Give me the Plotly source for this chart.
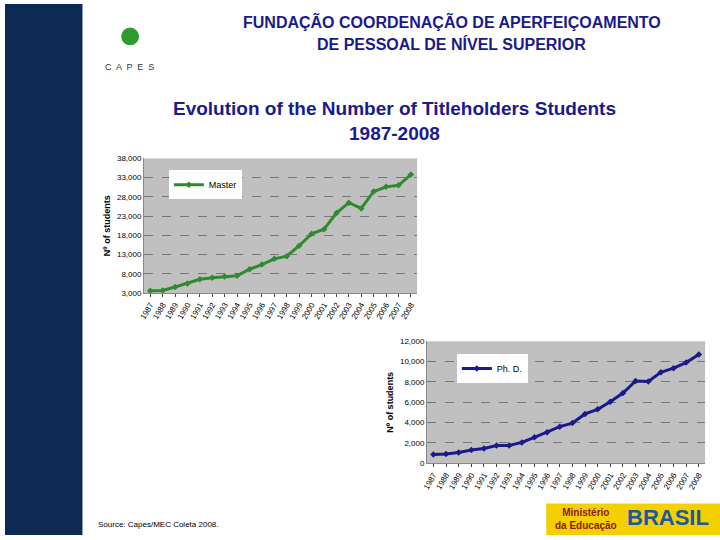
import plotly.graph_objects as go

years = [str(y) for y in range(1987, 2009)]
master = [3600, 3700, 4600, 5500, 6600, 7000, 7300, 7500, 9200, 10400, 11900, 12600,
          15300, 18400, 19600, 23800, 26500, 25000, 29400, 30600, 31000, 33800]
phd = [850, 900, 1050, 1300, 1450, 1750, 1750, 2050, 2550, 3050, 3600, 3950,
       4850, 5300, 6050, 6900, 8100, 8050, 8950, 9350, 9900, 10700]

W, H = 720, 540
def px(x): return x / W
def py(y): return 1 - y / H

fig = go.Figure()
fig.add_trace(go.Scatter(x=years, y=master, name="Master", mode="lines+markers",
                         line=dict(color="#2e8b2e", width=3), marker=dict(symbol="diamond", size=5),
                         xaxis="x", yaxis="y", legend="legend"))
fig.add_trace(go.Scatter(x=years, y=phd, name="Ph. D.", mode="lines+markers",
                         line=dict(color="#1a1a8c", width=3), marker=dict(symbol="diamond", size=5),
                         xaxis="x2", yaxis="y2", legend="legend2"))

axfont = dict(family="Arial", size=8, color="black")
common_x = dict(type="category", range=[-0.5, 21.5], tickangle=-60, tickfont=axfont,
                showgrid=False, showline=True, linecolor="#888", ticks="outside", ticklen=3)
ytitle = dict(family="Arial", size=9, color="black")
fig.update_layout(
    width=W, height=H, margin=dict(l=0, r=0, t=0, b=0),
    paper_bgcolor="white", plot_bgcolor="#c0c0c0", showlegend=True,
    xaxis=dict(domain=[px(140), px(415)], anchor="y", **common_x),
    yaxis=dict(domain=[py(294), py(157)], anchor="x", range=[3000, 38000],
               tickvals=list(range(3000, 38001, 5000)), tickformat=",", tickfont=axfont,
               gridcolor="#777", griddash="dash", showline=True, linecolor="#888",
               title=dict(text="<b>Nº of students</b>", font=ytitle, standoff=4)),
    xaxis2=dict(domain=[px(425), px(705)], anchor="y2", **common_x),
    yaxis2=dict(domain=[py(467), py(343)], anchor="x2", range=[0, 12000],
                tickvals=list(range(0, 12001, 2000)), tickformat=",", tickfont=axfont,
                gridcolor="#777", griddash="dash", showline=True, linecolor="#888",
                title=dict(text="<b>Nº of students</b>", font=ytitle, standoff=4)),
    legend=dict(x=px(165), y=py(169), xanchor="left", yanchor="top", bgcolor="white",
                font=dict(family="Arial", size=9, color="black")),
    legend2=dict(x=px(455), y=py(356), xanchor="left", yanchor="top", bgcolor="white",
                 font=dict(family="Arial", size=9, color="black")),
)

fig.add_shape(type="rect", xref="paper", yref="paper", x0=0, x1=px(78), y0=0, y1=1,
              fillcolor="#0d2a55", line=dict(width=0), layer="below")
fig.add_shape(type="rect", xref="paper", yref="paper", x0=px(545), x1=1, y0=0, y1=py(508),
              fillcolor="#f5d000", line=dict(width=0))

anns = [
    dict(x=px(450), y=py(18), text="<b>FUNDAÇÃO COORDENAÇÃO DE APERFEIÇOAMENTO</b>", size=16, color="#1a1a8c"),
    dict(x=px(450), y=py(41), text="<b>DE PESSOAL DE NÍVEL SUPERIOR</b>", size=16, color="#1a1a8c"),
    dict(x=px(392), y=py(106), text="<b>Evolution of the Number of Titleholders Students</b>", size=19, color="#1a1a8c"),
    dict(x=px(392), y=py(132), text="<b>1987-2008</b>", size=19, color="#1a1a8c"),
    dict(x=px(125), y=py(64), text="C  A  P  E  S", size=9, color="#333"),
    dict(x=px(155), y=py(529), text="Source: Capes/MEC Coleta 2008.", size=8, color="black"),
    dict(x=px(585), y=py(524), text="<b>Ministério<br>da Educação</b>", size=10, color="#8b1a1a"),
    dict(x=px(668), y=py(522), text="<b>BRASIL</b>", size=22, color="#1a5a9c"),
]
for a in anns:
    fig.add_annotation(x=a["x"], y=a["y"], xref="paper", yref="paper", text=a["text"],
                       xanchor="center", yanchor="middle", showarrow=False,
                       font=dict(family="Arial", size=a["size"], color=a["color"]))
fig.add_shape(type="circle", xref="paper", yref="paper", x0=px(117), x1=px(135), y0=py(42), y1=py(24),
              fillcolor="#2e9b2e", line=dict(width=0))

fig.write_html("out.html", config={"displayModeBar": False})
with open("out.html", encoding="utf-8") as f:
    html = f.read()
html = html.replace("<head>", "<head><style>html,body{margin:0;padding:0;overflow:hidden}</style>", 1)
with open("out.html", "w", encoding="utf-8") as f:
    f.write(html)
